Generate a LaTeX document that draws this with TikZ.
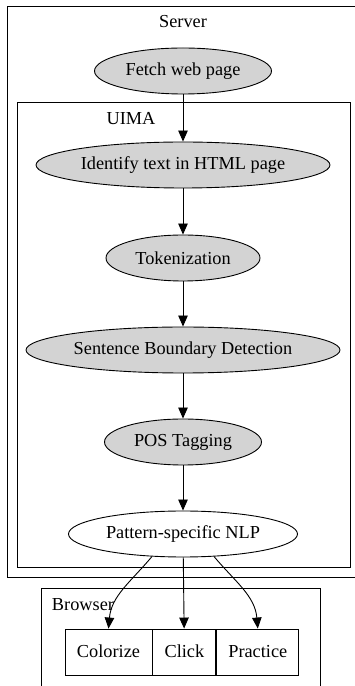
\documentclass[tikz,border=0pt]{standalone}
\usepackage{fontspec}
\setmainfont{Liberation Serif}
\usetikzlibrary{shapes.geometric,positioning,arrows.meta}
\definecolor{stagegray}{RGB}{211,211,211}

\begin{document}
\begin{tikzpicture}[x=1pt,y=1pt,>={Triangle[length=11pt,width=9.5pt]},
		font=\fontsize{18.3}{22}\selectfont,
		stage/.style={ellipse, draw, line width=0.9pt, minimum height=46pt, inner sep=0pt},
		done/.style={stage, fill=stagegray},
		cell/.style={draw, line width=0.9pt, minimum height=46pt, inner sep=0pt,
				text height=14pt, text depth=2pt},
		flow/.style={->, line width=0.9pt}]
		\useasboundingbox (0,0) rectangle (355,686);
		\begin{scope}[line width=0.9pt]
			\draw (362,680) -- (7,680) -- (7,109) -- (362,109);
			\draw (17,584) rectangle (350,119);
			\draw (41,-10) -- (41,98) -- (320,98) -- (320,-10);
		\end{scope}
		\node (server) at (183,664) {Server};
		\node (uima) at (131,567) {UIMA};
		\node (browser) at (83,81) {Browser};

		\node[done, minimum width=177pt] (fetch) at (183,615) {Fetch web page};
		\node[done, minimum width=294pt] (identify) at (183,521) {Identify text in HTML page};
		\node[done, minimum width=154pt] (token) at (183,428) {Tokenization};
		\node[done, minimum width=314pt] (sentence) at (183,336) {Sentence Boundary Detection};
		\node[done, minimum width=157pt] (pos) at (183,244) {POS Tagging};
		\node[stage, minimum width=229pt] (nlp) at (183,152) {Pattern-specific NLP};

		\node[cell, minimum width=87pt] (colorize) at (108.5,34) {Colorize};
		\node[cell, minimum width=63pt, right=0pt of colorize] (click) {Click};
		\node[cell, minimum width=82pt, right=0pt of click] (practice) {Practice};

		\draw[flow] (fetch) -- (identify);
		\draw[flow] (identify) -- (token);
		\draw[flow] (token) -- (sentence);
		\draw[flow] (sentence) -- (pos);
		\draw[flow] (pos) -- (nlp);
		\draw[flow] (nlp.216) to[out=-130, in=85] (colorize.north);
		\draw[flow] (nlp) -- (click);
		\draw[flow] (nlp.324) to[out=-50, in=95] (practice.north);
	\end{tikzpicture}
\end{document}
